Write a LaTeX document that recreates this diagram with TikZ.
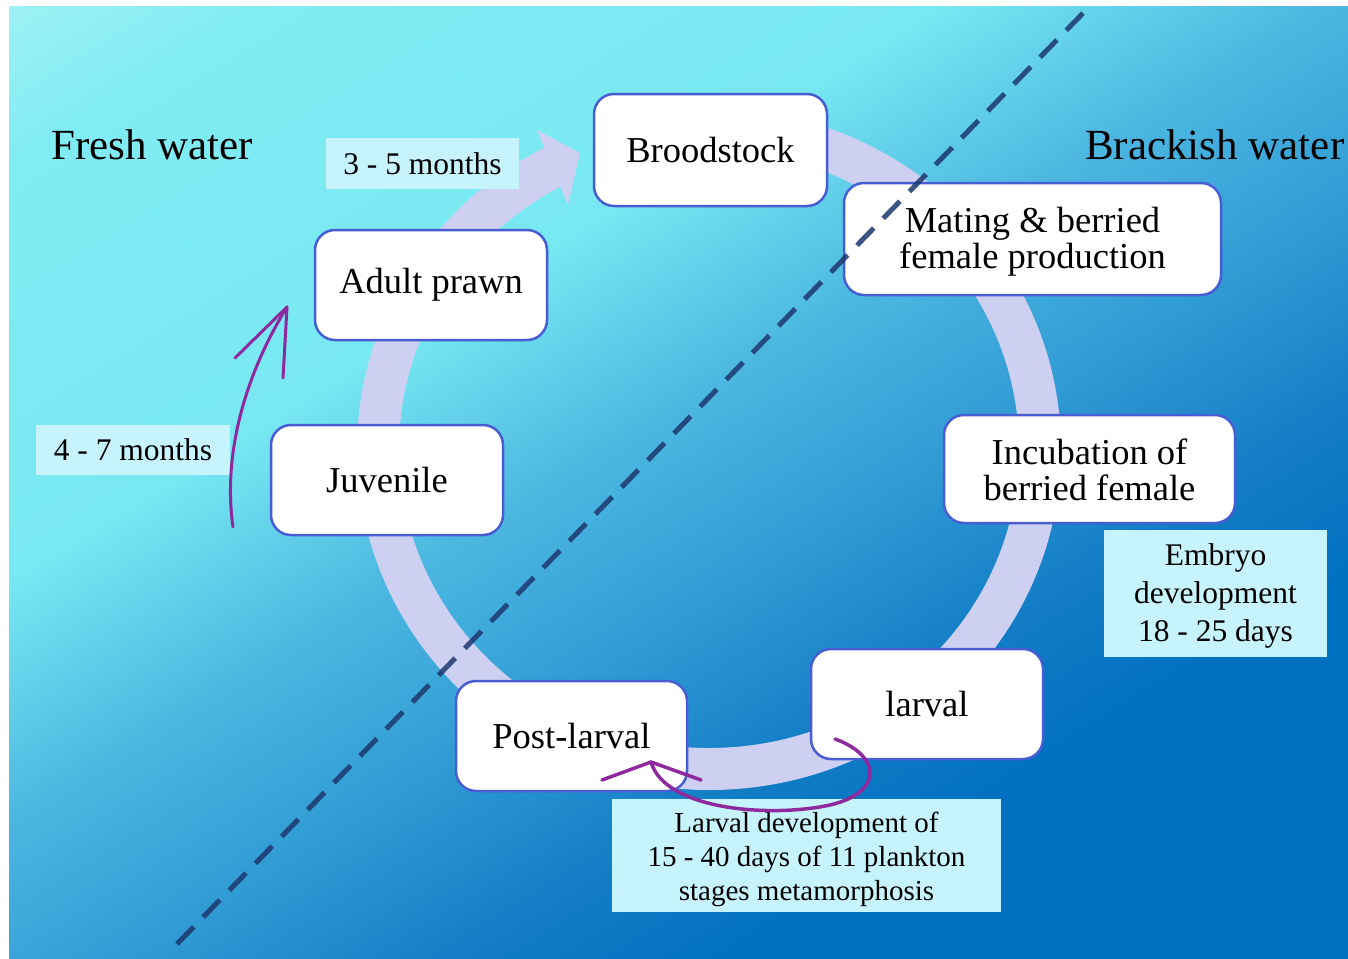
\documentclass[tikz,border=0pt]{standalone}
\usepackage{fontspec}
\setmainfont{Liberation Serif}
\usetikzlibrary{arrows.meta}
\definecolor{bandc}{RGB}{206,208,242}
\definecolor{boxline}{RGB}{72,92,212}
\definecolor{labfill}{RGB}{198,243,252}
\definecolor{purp}{RGB}{142,42,158}
\definecolor{dashc}{RGB}{28,56,110}
\definecolor{g0}{RGB}{160,241,246}
\definecolor{g1}{RGB}{128,236,243}
\definecolor{g2}{RGB}{120,232,242}
\definecolor{g3}{RGB}{76,184,225}
\definecolor{g4}{RGB}{46,152,211}
\definecolor{g5}{RGB}{20,126,198}
\definecolor{g6}{RGB}{0,112,192}
\pgfdeclarehorizontalshading{bgshade}{2400bp}{color(0bp)=(g0); color(150bp)=(g1); color(500bp)=(g2); color(700bp)=(g3); color(900bp)=(g4); color(1050bp)=(g5); color(1200bp)=(g6); color(1600bp)=(g6)}
\tikzset{
  stage/.style={draw=boxline, line width=2.5pt, fill=white, rounded corners=20pt, align=center, inner sep=0pt, font=\fontsize{36.5}{36}\selectfont},
  stagetext/.style={inner sep=0pt, align=center, font=\fontsize{36.5}{36}\selectfont},
  lab/.style={fill=labfill, inner sep=0pt, align=center, font=\fontsize{31.5}{38}\selectfont},
  labtext/.style={inner sep=0pt, align=center, font=\fontsize{31.5}{38}\selectfont},
  purpline/.style={draw=purp, line width=3pt, line cap=round, line join=round},
  region/.style={anchor=base west, inner sep=0pt, font=\fontsize{43}{43}\selectfont}
}
\begin{document}
\begin{tikzpicture}[x=1pt,y=-1pt]
\useasboundingbox (0,0) rectangle (1348,958);
\fill[white] (0,0) rectangle (1348,958);
\begin{scope}
\clip (9,7) rectangle (1348,958);
\node[inner sep=0pt, outer sep=0pt, rotate=-58.3] (bgs) at (420.8,680) {\pgfuseshading{bgshade}};
\end{scope}
% circular band
\draw[bandc, line width=42pt] (709,129) arc[start angle=-90, end angle=243, x radius=331, y radius=320];
\fill[bandc] (537,130) -- (580,153) -- (568,205) -- cycle;
% region titles
\node[region] (fw) at (51,159) {Fresh water};
\node[region] (bw) at (1085,159) {Brackish water};
% stages
\node[stage, minimum width=233pt, minimum height=112pt] (brood) at (710.5,150) {Broodstock};
\node[stage, minimum width=377pt, minimum height=112pt] (mating) at (1032.5,239) {};
\node[stagetext, yshift=-3pt] (matingtext) at (mating.center) {Mating \& berried\\female production};
\node[stage, minimum width=291pt, minimum height=108pt] (incub) at (1089.5,469) {};
\node[stagetext, yshift=-1pt] (incubtext) at (incub.center) {Incubation of\\berried female};
\node[stage, minimum width=232pt, minimum height=110pt] (larval) at (927,704) {larval};
\node[stage, minimum width=231pt, minimum height=110pt] (post) at (571.5,736) {Post-larval};
\node[stage, minimum width=232pt, minimum height=110pt] (juv) at (387,480) {Juvenile};
\node[stage, minimum width=232pt, minimum height=110pt] (adult) at (431,285) {Adult prawn};
% labels
\node[lab, minimum width=193pt, minimum height=51pt] (m35) at (422.5,163.5) {3 - 5 months};
\node[lab, minimum width=194pt, minimum height=50pt] (m47) at (133,450) {4 - 7 months};
\node[lab, minimum width=223pt, minimum height=127pt] (embryo) at (1215.5,593.5) {};
\node[labtext, yshift=-2pt] (embryotext) at (embryo.center) {Embryo\\development\\18 - 25 days};
\node[lab, minimum width=389pt, minimum height=113pt] (ldev) at (806.5,855.5) {};
\node[labtext, font=\fontsize{29}{34}\selectfont, yshift=-4pt] (ldevtext) at (ldev.center) {Larval development of\\15 - 40 days of 11 plankton\\stages metamorphosis};
% purple arrows
\coordinate (la0) at (233,527);
\coordinate (la1) at (287,307);
\coordinate (law1) at (235,358);
\coordinate (law2) at (283,378);
\draw[purpline] (la0) .. controls (222,450) and (248,370) .. (la1);
\draw[purpline] (law1) -- (la1) -- (law2);
\coordinate (ba0) at (835,739);
\coordinate (bam) at (830,805);
\coordinate (ba1) at (651,762);
\coordinate (bw1) at (602,780);
\coordinate (bw2) at (701,780);
\draw[purpline, line width=3.5pt] (ba0) .. controls (880,755) and (885,792) .. (bam) .. controls (770,818) and (665,810) .. (ba1);
\draw[purpline, line width=3.5pt] (bw1) -- (ba1) -- (bw2);
% dashed divider
\coordinate (d0) at (177,944);
\coordinate (d1) at (1088,8);
\draw[dashc, opacity=0.85, line width=5pt, dash pattern=on 24pt off 13.5pt] (d0) -- (d1);
\end{tikzpicture}
\end{document}
